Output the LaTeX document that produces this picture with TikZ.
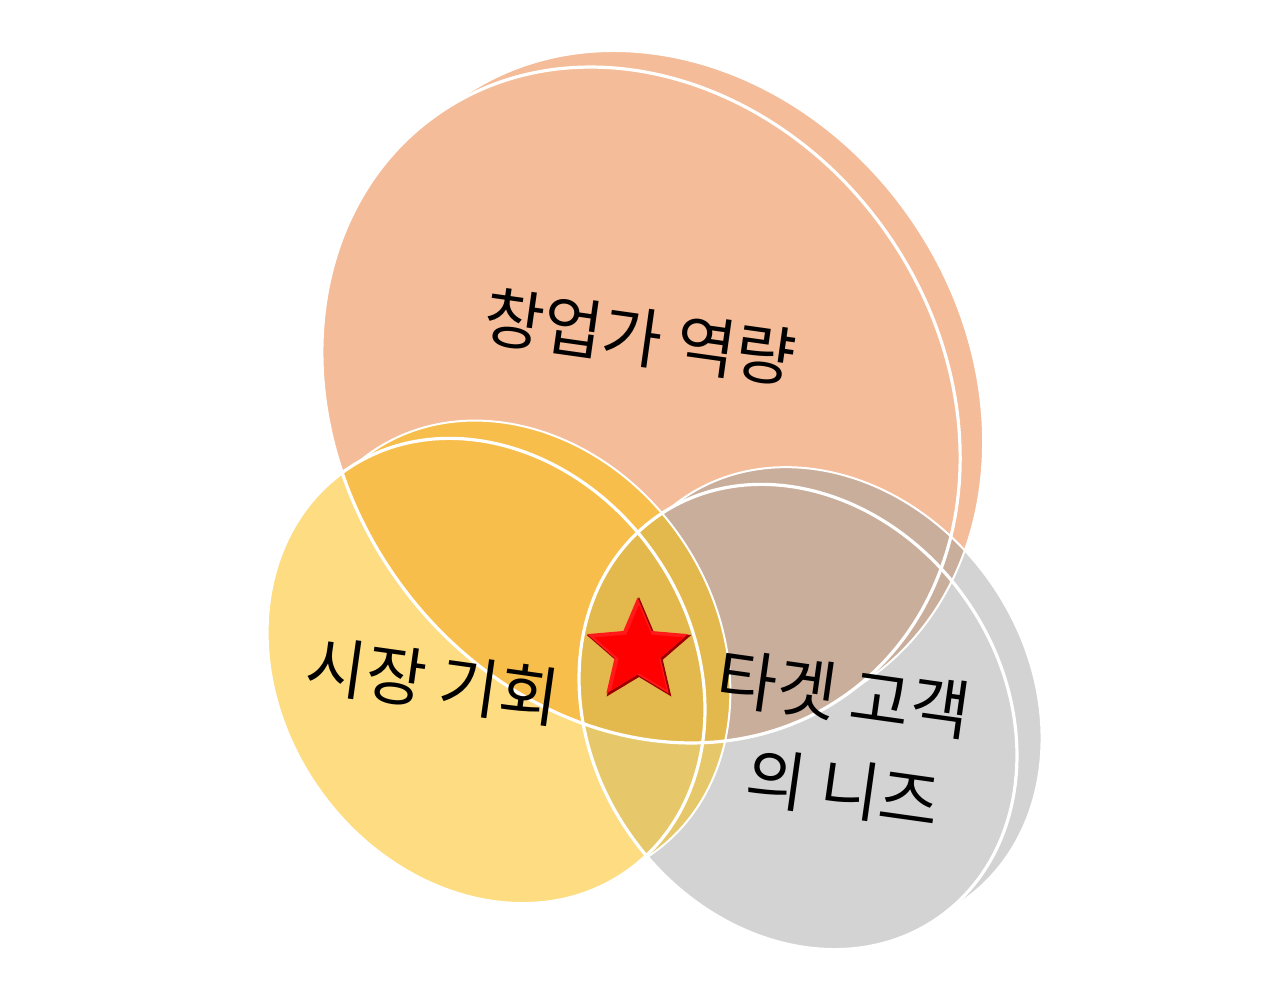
\documentclass[tikz,border=0pt]{standalone}
\usepackage{fontspec}
\usetikzlibrary{shapes.geometric}
\newfontfamily\kor{Noto Sans CJK KR}
\definecolor{peach}{HTML}{F4BC98}
\definecolor{sun}{HTML}{FDDC82}
\definecolor{ash}{HTML}{D3D3D3}
\definecolor{amber}{HTML}{F7BE4B}
\definecolor{taupe}{HTML}{C9AE9C}
\definecolor{olive}{HTML}{E6C86A}
\definecolor{gold}{HTML}{E3B94D}
\newcommand{\bigtxt}{\kor\fontsize{65}{78}\selectfont}
% disks: front face + back rim (rim sits along the minor axis)
\newcommand{\peachface}{(0,0) ellipse [x radius=355, y radius=300]}
\newcommand{\peachdisk}{(0,0) ellipse [x radius=355, y radius=300] (0,-28) ellipse [x radius=355, y radius=300]}
\newcommand{\peachrim}{(0,-28) ellipse [x radius=355, y radius=300]}
\newcommand{\sunface}{(0,0) ellipse [x radius=245, y radius=205]}
\newcommand{\sundisk}{(0,0) ellipse [x radius=245, y radius=205] (0,-31) ellipse [x radius=245, y radius=205]}
\newcommand{\sunrim}{(0,-31) ellipse [x radius=245, y radius=205]}
\newcommand{\ashface}{(0,0) ellipse [x radius=245, y radius=205]}
\newcommand{\ashdisk}{(0,0) ellipse [x radius=245, y radius=205] (0,-30) ellipse [x radius=245, y radius=205]}
\newcommand{\ashrim}{(0,-30) ellipse [x radius=245, y radius=205]}
% a big box, run the other way round from the faces, so a face is cut out of it
\newcommand{\outside}{(-2000,-2000) rectangle (2000,2000)}

\begin{document}
\begin{tikzpicture}[x=1pt,y=-1pt,
  peachpos/.style={shift={(641,405)},rotate=-55},
  sunpos/.style={shift={(486,671)},rotate=-55},
  ashpos/.style={shift={(798,717)},rotate=-55},
  face/.style={draw=white,line width=3.2pt},
  rim/.style={draw=white,line width=2pt},
  caption/.style={font=\bigtxt,text=black,rotate=-8,inner sep=0},
  starbox/.style={star,star points=5,star point ratio=2.2,inner sep=0,draw=none}]
\useasboundingbox (0,0) rectangle (1280,990);
\fill[white] (0,0) rectangle (1280,990);

% base fills
\fill[peach,peachpos] \peachdisk;
\fill[sun,sunpos] \sundisk;
\fill[ash,ashpos] \ashdisk;

% overlaps
\begin{scope}
  \clip[peachpos] \peachdisk;
  \fill[amber,sunpos] \sundisk;
  \fill[taupe,ashpos] \ashdisk;
\end{scope}
\begin{scope}
  \clip[sunpos] \sundisk;
  \fill[olive,ashpos] \ashdisk;
\end{scope}
\begin{scope}
  \clip[peachpos] \peachdisk;
  \clip[sunpos] \sundisk;
  \fill[gold,ashpos] \ashdisk;
\end{scope}

% back rims, only outside their own face
\begin{scope}
  \clip[peachpos] \outside \peachface;
  \draw[rim,peachpos] \peachrim;
\end{scope}
\begin{scope}
  \clip[sunpos] \outside \sunface;
  \draw[rim,sunpos] \sunrim;
\end{scope}
\begin{scope}
  \clip[ashpos] \outside \ashface;
  \draw[rim,ashpos] \ashrim;
\end{scope}

% front faces
\draw[face,peachpos] \peachface;
\draw[face,sunpos] \sunface;
\draw[face,ashpos] \ashface;

% labels
\node[caption] (skill) at (640,337) {창업가 역량};
\node[caption] (market) at (433,681) {시장 기회};
\node[caption] (target) at (844,694) {타겟 고객};
\node[caption] (needs) at (843,789) {의 니즈};

% star
\node[starbox,fill=red!62!black,minimum size=110] (star) at (639,652) {};
\node[starbox,fill=red!90!white,minimum size=106] (starlit) at ([shift={(-1.5,-1.5)}]star.center) {};
\node[starbox,fill=red,minimum size=94] (starface) at (star.center) {};
\end{tikzpicture}
\end{document}
